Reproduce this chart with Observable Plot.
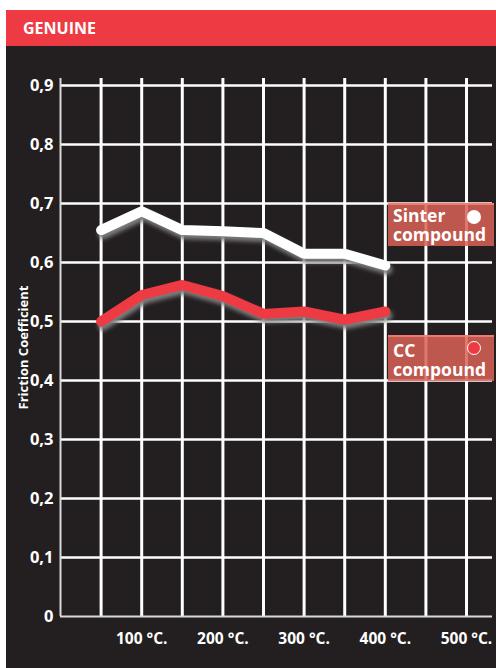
<!DOCTYPE html>
<html>
<head>
<meta charset="utf-8">
<script src="https://cdn.jsdelivr.net/npm/d3@7"></script>
<script src="https://cdn.jsdelivr.net/npm/@observablehq/plot@0.6"></script>
<style>
  html, body { margin: 0; padding: 0; background: #fff; }
  body { width: 496px; height: 668px; position: relative; overflow: hidden; font-family: "Open Sans", sans-serif; }
  #banner { position: absolute; left: 6px; top: 10px; width: 490px; height: 36px; background: #ee3b43; color: #fff; font-weight: 700; font-size: 16px; line-height: 36px; box-sizing: border-box; padding-left: 17px; }
  #chart { position: absolute; left: 6px; top: 46px; width: 490px; height: 622px; background: #231f20; }
  .leg { position: absolute; left: 388px; width: 106px; background: rgba(217,98,86,0.85); border-top: 2px solid rgba(245,125,115,0.9); box-sizing: border-box; color: #fff; font-weight: 700; font-size: 17.5px; padding: 0 0 0 5px; }
  .leg div { position: absolute; left: 5px; line-height: 20px; white-space: nowrap; }
  .dot { position: absolute; right: 13px; width: 14px; height: 14px; border-radius: 50%; box-sizing: border-box; }
</style>
</head>
<body>
<div id="banner">GENUINE</div>
<div id="chart"></div>
<div class="leg" style="top:203px;height:43px;"><div style="top:0px">Sinter</div><div style="top:19px">compound</div><span class="dot" style="top:5px;background:#fff;"></span></div>
<div class="leg" style="top:335px;height:46px;"><div style="top:3px">CC</div><div style="top:22px">compound</div><span class="dot" style="top:4px;background:#ee3b43;border:1.5px solid #fff;"></span></div>
<script>
const temps = [50, 100, 150, 200, 250, 300, 350, 400];
const sinter = [0.655, 0.687, 0.655, 0.653, 0.650, 0.615, 0.615, 0.595];
const cc = [0.500, 0.545, 0.562, 0.543, 0.513, 0.517, 0.503, 0.517];
const yTicks = [0, 0.1, 0.2, 0.3, 0.4, 0.5, 0.6, 0.7, 0.8, 0.9];
const xGrid = [50, 100, 150, 200, 250, 300, 350, 400, 450, 500];
const xLabels = [100, 200, 300, 400, 500];

const sinterData = temps.map((t, i) => ({t, v: sinter[i]}));
const ccData = temps.map((t, i) => ({t, v: cc[i]}));
const fmt = d => d === 0 ? "0" : d.toFixed(1).replace(".", ",");
const SH = "#7d7d7e";

const svg = Plot.plot({
  width: 490,
  height: 622,
  marginLeft: 54,
  marginRight: 4,
  marginTop: 32,
  marginBottom: 52,
  style: {background: "#231f20", color: "#fff", fontFamily: "Open Sans, sans-serif", overflow: "visible"},
  x: {domain: [0, 532], axis: null},
  y: {domain: [0, 0.912], axis: null},
  marks: [
    Plot.ruleX(xGrid, {stroke: "#fff", strokeWidth: 3}),
    Plot.ruleY(yTicks.filter(d => d > 0), {stroke: "#fff", strokeWidth: 2.5}),
    Plot.ruleY([0], {stroke: "#d9d9d9", strokeWidth: 2}),
    Plot.ruleX([0], {stroke: "#d9d9d9", strokeWidth: 2}),
    Plot.axisY(yTicks, {tickSize: 0, tickPadding: 7, tickFormat: fmt, fontSize: 16.5, fontWeight: "bold", label: null}),
    Plot.axisX(xLabels, {tickSize: 0, tickPadding: 16, tickFormat: d => `${d} °C.`, fontSize: 15.5, fontWeight: "bold", label: null}),
    Plot.text(["Friction Coefficient"], {frameAnchor: "left", rotate: -90, dx: -37, textAnchor: "middle", lineAnchor: "middle", fontSize: 13, fontWeight: "bold", fill: "#fff"}),
    Plot.line(sinterData, {x: "t", y: "v", stroke: SH, strokeWidth: 10, dx: 2, dy: 4, strokeLinejoin: "miter"}),
    Plot.line(ccData, {x: "t", y: "v", stroke: SH, strokeWidth: 10, dx: 2, dy: 4, strokeLinejoin: "miter"}),
    Plot.line(sinterData, {x: "t", y: "v", stroke: "#fff", strokeWidth: 10, strokeLinejoin: "miter"}),
    Plot.line(ccData, {x: "t", y: "v", stroke: "#ee3b43", strokeWidth: 10, strokeLinejoin: "miter"})
  ]
});

const s = d3.select(svg);
const defs = s.insert("defs", ":first-child");
defs.append("filter").attr("id", "blur").attr("x", "-10%").attr("y", "-50%").attr("width", "120%").attr("height", "200%")
  .append("feGaussianBlur").attr("stdDeviation", 2);
s.selectAll(`[stroke="${SH}"]`).attr("filter", "url(#blur)");

document.getElementById("chart").appendChild(svg);
</script>
</body>
</html>
